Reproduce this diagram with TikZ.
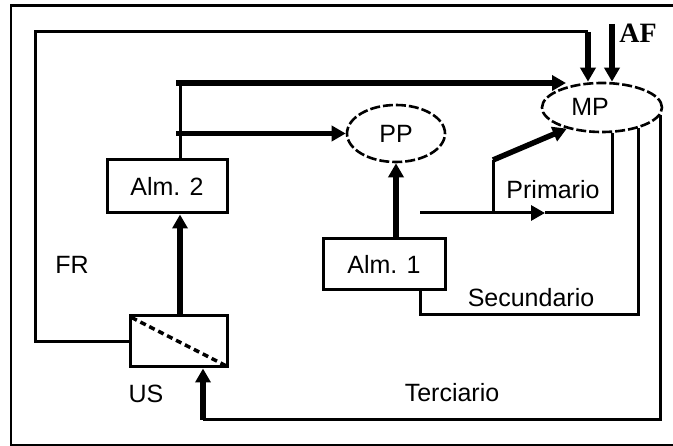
\documentclass[tikz,border=0pt]{standalone}
\usepackage{fontspec}
\setmainfont{Liberation Sans}
\newfontfamily\afont{Liberation Serif}
\usetikzlibrary{arrows.meta,shapes.geometric}
\newcommand\lblfont{\fontsize{25}{30}\selectfont}
\tikzset{
  thinln/.style={line width=3pt},
  thickln/.style={line width=5.5pt},
  boxnode/.style={draw, line width=3pt, inner sep=0pt, font=\lblfont},
  ellnode/.style={draw, ellipse, line width=2.6pt, dash pattern=on 10pt off 3pt, inner sep=0pt, font=\lblfont},
  tip/.style={-{Triangle[length=14pt,width=15pt]}},
  lbl/.style={font=\lblfont, inner sep=0pt}
}
\begin{document}
\begin{tikzpicture}[x=1pt,y=-1pt]
\useasboundingbox (0,0) rectangle (673,446);
% outer frame
\draw[line width=2.6pt] (674,5.5) -- (11,5.5) -- (11,445) -- (674,445);
% nodes
\node[boxnode, minimum width=97pt, minimum height=51pt] (us) at (178.5,341.5) {};
\node[boxnode, minimum width=120pt, minimum height=53pt] (alm2) at (167,186.5) {Alm. 2};
\node[boxnode, minimum width=122pt, minimum height=51pt] (alm1) at (384,264.5) {Alm. 1};
\node[ellnode, minimum width=98pt, minimum height=57pt] (pp) at (396,133.5) {PP};
\node[ellnode, minimum width=120pt, minimum height=49pt] (mp) at (602,107.5) {};
\node[lbl] (mpt) at (590,107) {MP};
% labels
\node[lbl] (fr) at (72,265) {FR};
\node[lbl] (ust) at (146,394) {US};
\node[lbl] (prim) at (553,190) {Primario};
\node[lbl] (sec) at (531,298) {Secundario};
\node[lbl] (ter) at (452,393) {Terciario};
\node[font=\afont\bfseries\fontsize{28}{30}\selectfont, inner sep=0pt] (af) at (638,33) {AF};
% US diagonal
\draw[line width=3.5pt, dash pattern=on 6pt off 4pt] ([shift={(3pt,-3pt)}]us.north west) -- ([shift={(-3pt,3pt)}]us.south east);
% coordinates
\coordinate (frt) at (35,32);
\coordinate (fra) at (588,32);
\coordinate (afs) at (612,24);
\coordinate (v1) at (180,83);
\coordinate (j1) at (176,83);
\coordinate (j2) at (176,133.5);
\coordinate (mpin) at (566,83);
\coordinate (p0) at (420,213);
\coordinate (pm) at (545,213);
\coordinate (p1) at (612,213);
\coordinate (pl) at (493,213);
\coordinate (pt) at (493,160);
\coordinate (s1) at (638,315);
\coordinate (t1) at (660,420);
\coordinate (t2) at (203,420);
% FR loop
\draw[thinln] (us.west) -- (us.west -| frt) -- (frt) -- (fra);
\draw[thickln,tip] (fra) -- (fra |- mp.north);
% AF
\draw[thickln,tip] (afs) -- (afs |- mp.north);
% Alm2 trunk
\draw[thinln] (v1 |- alm2.north) -- (v1);
\draw[thickln,tip] (j1) -- (mpin);
\draw[thickln,tip] (j2) -- (pp.west);
% US -> Alm2
\draw[thickln,tip] (us.north -| v1) -- (alm2.south -| v1);
% Alm1 -> PP
\draw[thickln,tip] (alm1.north -| pp.south) -- (pp.south);
% Primario
\draw[thinln,-{Triangle[length=14pt,width=15pt]}] (p0) -- (pm);
\draw[thinln] (pm) -- (p1) -- (p1 |- mp.south);
\draw[thinln] (pl) -- (pt);
\draw[thickln,tip] (pt) -- (mp.211);
% Secundario
\draw[thinln] (alm1.south -| p0) |- (s1) -- (s1 |- mp.-29);
% Terciario
\draw[thinln] ([yshift=-8pt]t1 |- mp.east) -- (t1) -- (t2);
\draw[thickln,tip] (t2) -- (t2 |- us.south);
\end{tikzpicture}
\end{document}
